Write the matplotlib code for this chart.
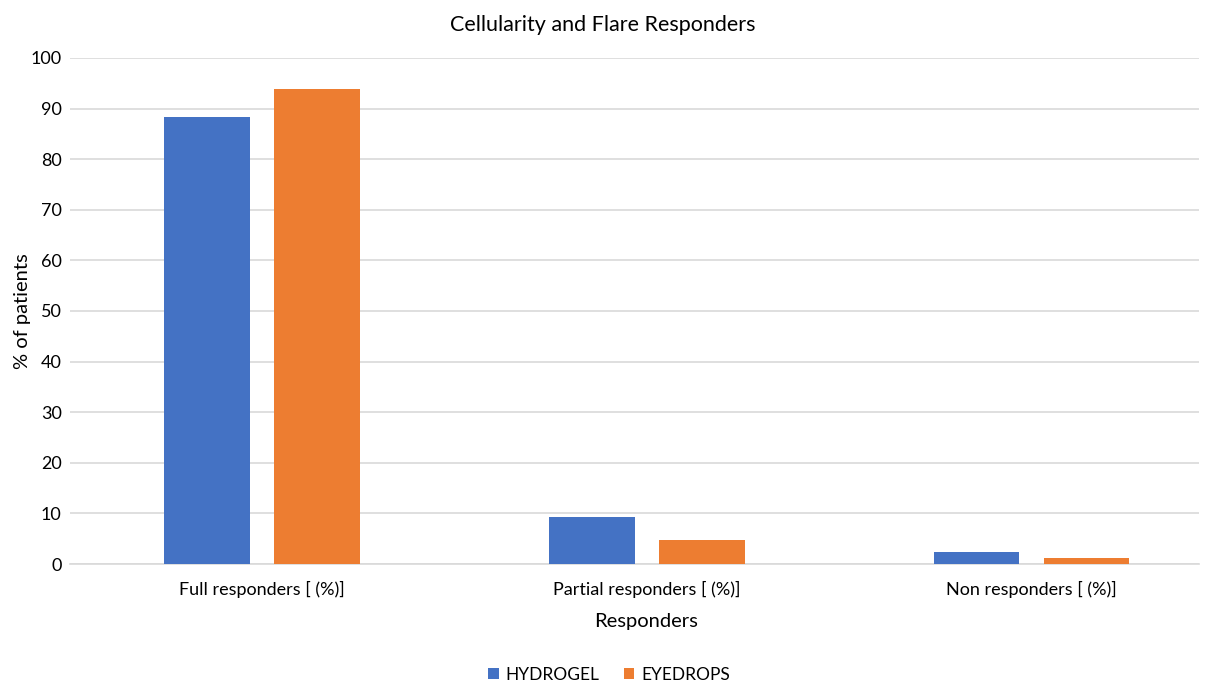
import matplotlib
matplotlib.use("Agg")
import matplotlib.pyplot as plt
import numpy as np

plt.rcParams['font.family'] = ['Lato', 'DejaVu Sans']

categories = ["Full responders [ (%)]", "Partial responders [ (%)]", "Non responders [ (%)]"]
hydrogel = [88.3, 9.35, 2.4]
eyedrops = [93.9, 4.8, 1.1]
series_names = ["HYDROGEL", "EYEDROPS"]
colors = ["#4472C4", "#ED7D31"]

fig = plt.figure(figsize=(12.13, 6.82), dpi=100)
ax = fig.add_axes([0.0577, 0.173, 0.931, 0.742])

x = np.arange(len(categories))
w = 0.223
off = 0.143
ax.bar(x - off, hydrogel, w, color=colors[0], label=series_names[0], zorder=3)
ax.bar(x + off, eyedrops, w, color=colors[1], label=series_names[1], zorder=3)

ax.set_xlim(-0.4987, 2.436)
ax.set_ylim(0, 100)
ax.set_yticks(np.arange(0, 101, 10))
ax.set_xticks(x)
ax.set_xticklabels(categories)
ax.yaxis.grid(True, color="#D9D9D9", linewidth=1.2, zorder=0)
ax.set_axisbelow(True)
for s in ["top", "right", "left"]:
    ax.spines[s].set_visible(False)
ax.spines["bottom"].set_color("#D9D9D9")
ax.spines["bottom"].set_linewidth(1.2)
ax.tick_params(axis="both", length=0, labelsize=13, colors="#000000")
ax.tick_params(axis="x", pad=12)
ax.tick_params(axis="y", pad=6)

ax.set_xlabel("Responders", fontsize=14.5, labelpad=11)
ax.xaxis.label.set_x(0.51)
ax.set_ylabel("% of patients", fontsize=14.5, labelpad=0)
fig.suptitle("Cellularity and Flare Responders", fontsize=15.5, y=0.978, x=0.497)

fig.legend(loc="lower center", bbox_to_anchor=(0.502, -0.024), ncol=2, frameon=False,
           fontsize=12.5, handlelength=0.6, handleheight=0.6, columnspacing=1.4, handletextpad=0.4)

fig.savefig("out.png", dpi=100)
